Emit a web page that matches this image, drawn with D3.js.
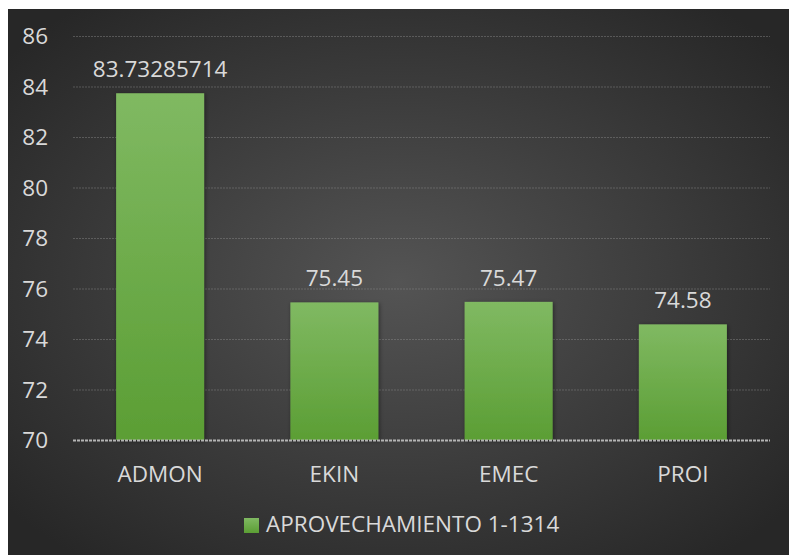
<!DOCTYPE html>
<html>
<head>
<meta charset="utf-8">
<script src="https://cdn.jsdelivr.net/npm/d3@7"></script>
<style>
  body { margin: 0; background: #fff; }
  svg text { font-family: "Open Sans", "Noto Sans", sans-serif; fill: #d9d9d9; }
</style>
</head>
<body>
<div id="chart"></div>
<script>
var categories = ["ADMON", "EKIN", "EMEC", "PROI"];
var values = [83.73285714, 75.45, 75.47, 74.58];
var valueLabels = ["83.73285714", "75.45", "75.47", "74.58"];
var yTicks = [70, 72, 74, 76, 78, 80, 82, 84, 86];
var seriesName = "APROVECHAMIENTO 1-1314";

var width = 789, height = 555;
var margin = {top: 36, right: 19, bottom: 115, left: 73};
var fontSize = "22.5px";

var svg = d3.select("#chart").append("svg")
    .attr("width", width)
    .attr("height", height);

var defs = svg.append("defs");
var bg = defs.append("radialGradient").attr("id", "bg")
    .attr("cx", "50%").attr("cy", "50%").attr("r", "65%");
bg.append("stop").attr("offset", "0%").attr("stop-color", "#545454");
bg.append("stop").attr("offset", "100%").attr("stop-color", "#272727");

var barGrad = defs.append("linearGradient").attr("id", "bar")
    .attr("x1", 0).attr("y1", 0).attr("x2", 0).attr("y2", 1);
barGrad.append("stop").attr("offset", "0%").attr("stop-color", "#80b962");
barGrad.append("stop").attr("offset", "100%").attr("stop-color", "#5b9e34");

var shadow = defs.append("filter").attr("id", "shadow")
    .attr("x", "-20%").attr("y", "-20%").attr("width", "140%").attr("height", "140%");
shadow.append("feDropShadow").attr("dx", 1).attr("dy", 1)
    .attr("stdDeviation", 2).attr("flood-color", "#000").attr("flood-opacity", 0.45);

// chart area (white strip left and top like the original)
svg.append("rect")
    .attr("x", 8).attr("y", 9)
    .attr("width", width - 8).attr("height", height - 9)
    .attr("fill", "url(#bg)");

var x = d3.scaleBand()
    .domain(categories)
    .range([margin.left, width - margin.right])
    .padding(0);

var y = d3.scaleLinear()
    .domain([70, 86])
    .range([height - margin.bottom, margin.top]);

var barW = x.bandwidth() * 0.505;

// gridlines
svg.append("g").selectAll("line")
    .data(yTicks.slice(1))
    .join("line")
    .attr("x1", margin.left).attr("x2", width - margin.right)
    .attr("y1", d => y(d) + 0.5).attr("y2", d => y(d) + 0.5)
    .attr("stroke", "#8a8a8a")
    .attr("stroke-width", 1)
    .attr("stroke-dasharray", "2,1")
    .attr("opacity", 0.45);

// bars
svg.append("g").selectAll("rect")
    .data(values)
    .join("rect")
    .attr("x", (d, i) => x(categories[i]) + (x.bandwidth() - barW) / 2)
    .attr("y", d => y(d))
    .attr("width", barW)
    .attr("height", d => y(70) - y(d))
    .attr("fill", "url(#bar)")
    .attr("filter", "url(#shadow)");

// base axis line
svg.append("line")
    .attr("x1", margin.left).attr("x2", width - margin.right)
    .attr("y1", y(70) + 0.5).attr("y2", y(70) + 0.5)
    .attr("stroke", "#b5b5b5")
    .attr("stroke-width", 2)
    .attr("stroke-dasharray", "3,1");

// y tick labels
svg.append("g").selectAll("text")
    .data(yTicks)
    .join("text")
    .attr("x", 48)
    .attr("y", d => y(d) + 8)
    .attr("text-anchor", "end")
    .style("font-size", fontSize)
    .text(d => d);

// value labels
svg.append("g").selectAll("text")
    .data(values)
    .join("text")
    .attr("x", (d, i) => x(categories[i]) + x.bandwidth() / 2)
    .attr("y", d => y(d) - 16)
    .attr("text-anchor", "middle")
    .style("font-size", fontSize)
    .text((d, i) => valueLabels[i]);

// category labels
svg.append("g").selectAll("text")
    .data(categories)
    .join("text")
    .attr("x", d => x(d) + x.bandwidth() / 2)
    .attr("y", 482)
    .attr("text-anchor", "middle")
    .style("font-size", fontSize)
    .text(d => d);

// legend
var legend = svg.append("g");
legend.append("rect")
    .attr("x", 244).attr("y", 518)
    .attr("width", 15).attr("height", 15)
    .attr("fill", "url(#bar)");
legend.append("text")
    .attr("x", 266).attr("y", 532)
    .style("font-size", fontSize)
    .text(seriesName);
</script>
</body>
</html>
